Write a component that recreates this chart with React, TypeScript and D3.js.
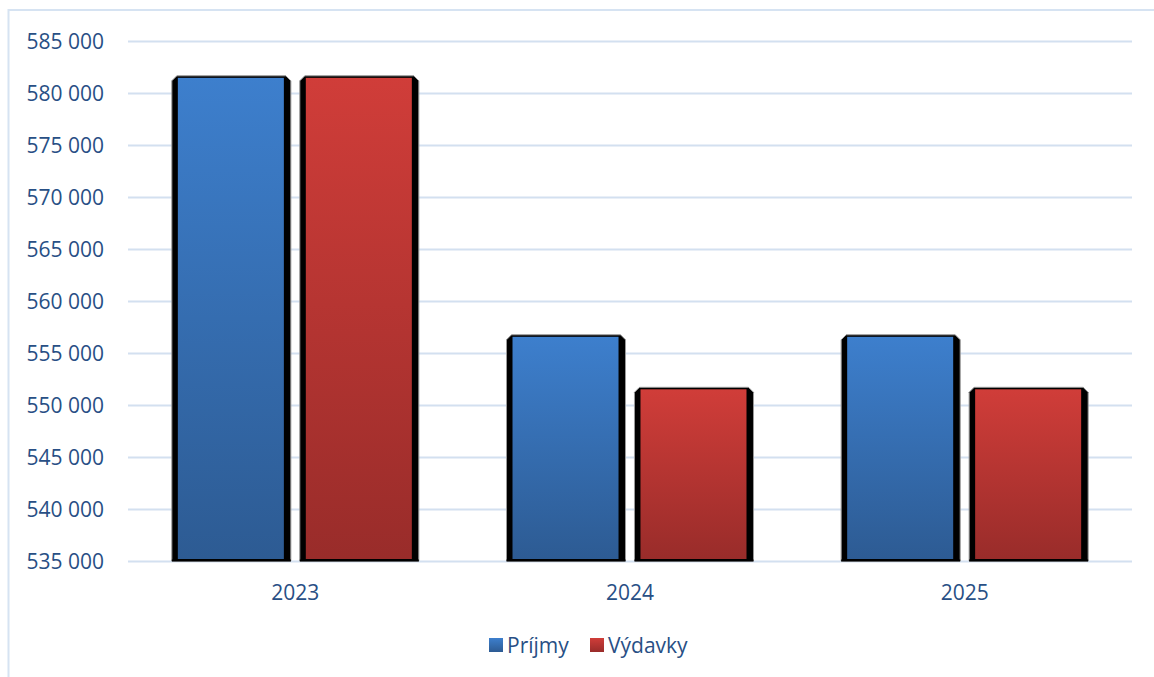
import * as React from 'react'
import { useEffect, useRef } from 'react'
import * as d3 from 'd3'

const years = ['2023', '2024', '2025']
const seriesNames = ['Príjmy', 'Výdavky']
const prijmy = [581650, 556750, 556750]
const vydavky = [581650, 551700, 551700]
const yTicks = [535000, 540000, 545000, 550000, 555000, 560000, 565000, 570000, 575000, 580000, 585000]

const W = 1154
const H = 677
const textColor = '#284f85'
const font = '"Open Sans", "Noto Sans", sans-serif'
const fontSize = 21

export default function App() {
  const svgRef = useRef<SVGSVGElement>(null)

  useEffect(() => {
    if (!svgRef.current) return
    const svg = d3.select(svgRef.current)
    svg.selectAll('*').remove()

    const left = 128
    const right = 1132
    const top = 41
    const bottom = 561

    const y = d3.scaleLinear().domain([535000, 585000]).range([bottom, top])
    const x0 = d3.scaleBand<string>().domain(years).range([left, right])
      .paddingInner(0.262).paddingOuter(0.131)
    const x1 = d3.scaleBand<string>().domain(seriesNames).range([0, x0.bandwidth()])
      .paddingInner(0.07).paddingOuter(0)

    // gradients for bars and legend keys
    const defs = svg.append('defs')
    const grads = [
      { id: 'g-blue', top: '#3d7fcd', bottom: '#2d5b93' },
      { id: 'g-red', top: '#d03d39', bottom: '#992c2a' },
    ]
    grads.forEach(g => {
      const lg = defs.append('linearGradient').attr('id', g.id)
        .attr('x1', 0).attr('y1', 0).attr('x2', 0).attr('y2', 1)
      lg.append('stop').attr('offset', '0%').attr('stop-color', g.top)
      lg.append('stop').attr('offset', '100%').attr('stop-color', g.bottom)
    })

    // chart border
    svg.append('path')
      .attr('d', `M${W},10 H8.5 V${H}`)
      .attr('fill', 'none')
      .attr('stroke', '#d6e3f2')
      .attr('stroke-width', 2)

    // gridlines
    svg.append('g').selectAll('line')
      .data(yTicks)
      .join('line')
      .attr('x1', left).attr('x2', right)
      .attr('y1', d => y(d) + 0.5).attr('y2', d => y(d) + 0.5)
      .attr('stroke', '#d3e0f0')
      .attr('stroke-width', 2)

    // y labels
    svg.append('g').selectAll('text')
      .data(yTicks)
      .join('text')
      .attr('x', 104)
      .attr('y', d => y(d))
      .attr('dy', '0.36em')
      .attr('text-anchor', 'end')
      .attr('fill', textColor)
      .attr('font-family', font)
      .attr('font-size', fontSize)
      .text(d => d3.format(',')(d).replace(/,/g, ' '))

    // bars
    const data = years.map((yr, i) => ({ yr, values: [prijmy[i], vydavky[i]] }))
    const groups = svg.append('g').selectAll('g')
      .data(data)
      .join('g')
      .attr('transform', d => `translate(${x0(d.yr)},0)`)

    groups.each(function (d) {
      const g = d3.select(this)
      d.values.forEach((v, si) => {
        const bx = x1(seriesNames[si]) as number
        const bw = x1.bandwidth()
        const by = y(v)
        const c = 5
        // black bevel body
        g.append('path')
          .attr('d', `M${bx},${bottom} V${by + c} L${bx + c},${by} H${bx + bw - c} L${bx + bw},${by + c} V${bottom} Z`)
          .attr('fill', '#000')
          .attr('stroke', '#9a9a9a')
          .attr('stroke-width', 1)
        g.append('rect')
          .attr('x', bx + 6)
          .attr('y', by + 2)
          .attr('width', bw - 13)
          .attr('height', bottom - 2 - by - 2)
          .attr('fill', si === 0 ? 'url(#g-blue)' : 'url(#g-red)')
        g.append('line')
          .attr('x1', bx).attr('x2', bx + bw)
          .attr('y1', bottom - 0.5).attr('y2', bottom - 0.5)
          .attr('stroke', '#000').attr('stroke-width', 2)
      })
    })

    // x labels
    svg.append('g').selectAll('text')
      .data(years)
      .join('text')
      .attr('x', d => (x0(d) as number) + x0.bandwidth() / 2)
      .attr('y', 592)
      .attr('dy', '0.36em')
      .attr('text-anchor', 'middle')
      .attr('fill', textColor)
      .attr('font-family', font)
      .attr('font-size', fontSize)
      .text(d => d)

    // legend
    const legend = svg.append('g')
    const legendX = [489, 590]
    seriesNames.forEach((name, i) => {
      legend.append('rect')
        .attr('x', legendX[i]).attr('y', 638)
        .attr('width', 14).attr('height', 14)
        .attr('fill', i === 0 ? 'url(#g-blue)' : 'url(#g-red)')
      legend.append('text')
        .attr('x', legendX[i] + 18)
        .attr('y', 645)
        .attr('dy', '0.36em')
        .attr('fill', textColor)
        .attr('font-family', font)
        .attr('font-size', fontSize)
        .text(name)
    })
  }, [])

  return (
    <svg
      ref={svgRef}
      width={W}
      height={H}
      style={{ position: 'absolute', left: 0, top: 0, background: '#fff', display: 'block' }}
    />
  )
}
